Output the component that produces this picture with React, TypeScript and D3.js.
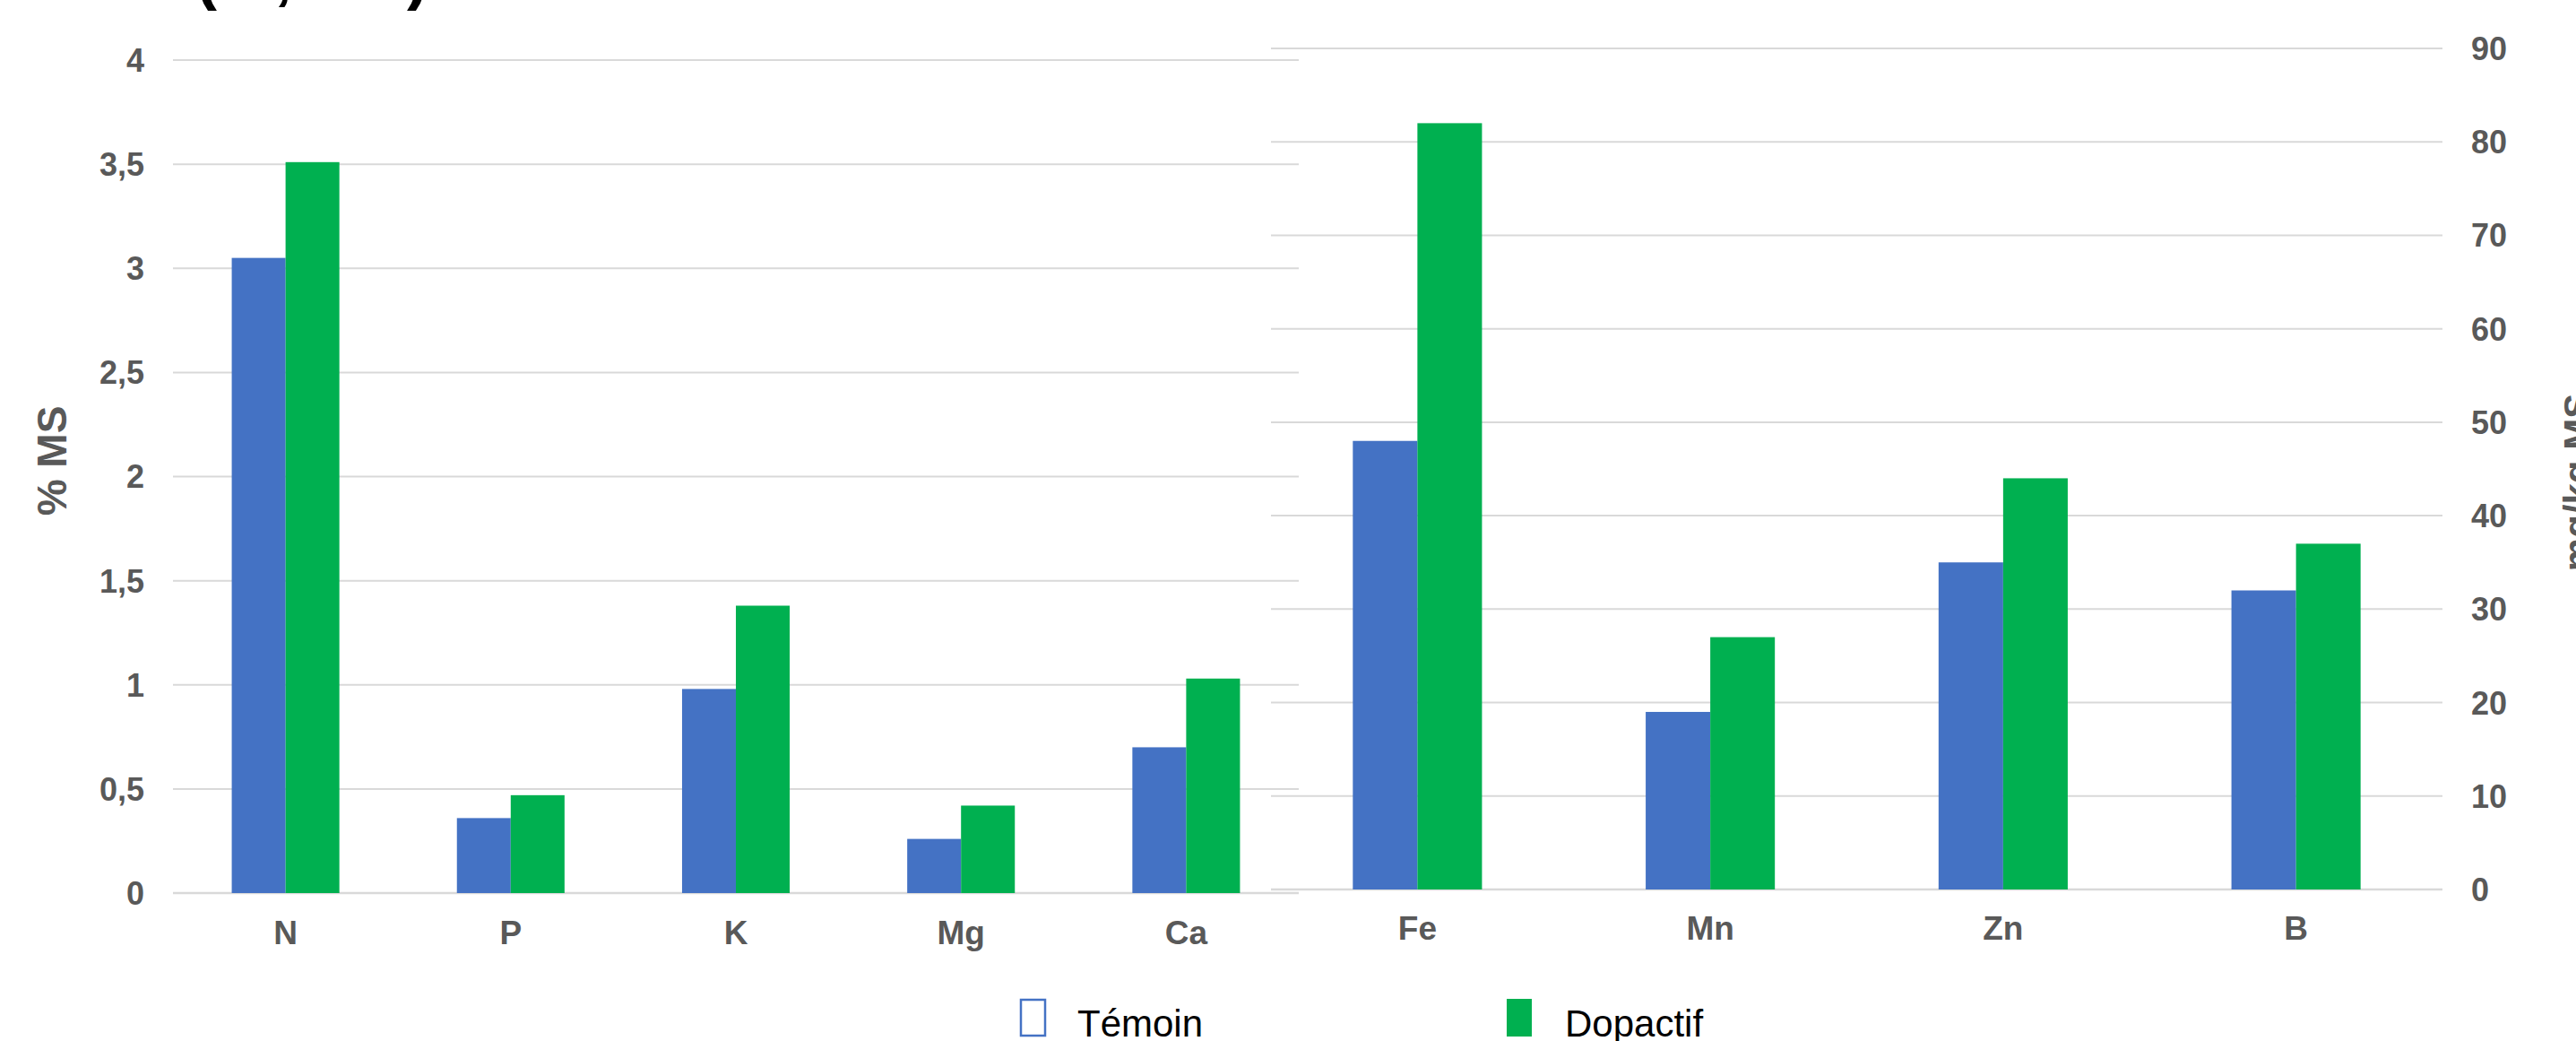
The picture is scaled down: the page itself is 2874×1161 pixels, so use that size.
import React from "react";
import * as d3 from "d3";

// Macro-elements (% of dry matter)
const macroCategories = ["N", "P", "K", "Mg", "Ca"];
const macroTemoin = [3.05, 0.36, 0.98, 0.26, 0.7];
const macroDopactif = [3.51, 0.47, 1.38, 0.42, 1.03];
const macroTicks = [0, 0.5, 1, 1.5, 2, 2.5, 3, 3.5, 4];

// Trace elements (mg/kg dry matter)
const microCategories = ["Fe", "Mn", "Zn", "B"];
const microTemoin = [48, 19, 35, 32];
const microDopactif = [82, 27, 44, 37];
const microTicks = [0, 10, 20, 30, 40, 50, 60, 70, 80, 90];

const seriesNames = ["Témoin", "Dopactif"];
const seriesColors = ["#4472C4", "#00B050"];

const W = 2874;
const H = 1161;
const FONT = "'Liberation Sans', Arial, Helvetica, sans-serif";
const GRAY = "#595959";
const GRID = "#d9d9d9";

const fmt = (v: number) => String(v).replace(".", ",");

type PanelProps = {
  categories: string[];
  a: number[];
  b: number[];
  ticks: number[];
  x0: number;
  x1: number;
  yZero: number;
  yTop: number;
  maxVal: number;
  padInner: number;
  labelBaseline: number;
};

function Panel(p: PanelProps) {
  const x = d3
    .scaleBand<string>()
    .domain(p.categories)
    .range([p.x0, p.x1])
    .paddingInner(p.padInner)
    .paddingOuter(p.padInner / 2);
  const sub = d3.scaleBand<string>().domain(seriesNames).range([0, x.bandwidth()]);
  const y = d3.scaleLinear().domain([0, p.maxVal]).range([p.yZero, p.yTop]);
  const rows = p.categories.map((c, i) => ({ c, vals: [p.a[i], p.b[i]] }));
  return (
    <g>
      {p.ticks.map((t) => (
        <line
          key={t}
          x1={p.x0}
          x2={p.x1}
          y1={y(t)}
          y2={y(t)}
          stroke={GRID}
          strokeWidth={t === 0 ? 2.5 : 2}
        />
      ))}
      {rows.map((r) =>
        r.vals.map((v, k) => (
          <rect
            key={r.c + k}
            x={(x(r.c) as number) + (sub(seriesNames[k]) as number)}
            y={y(v)}
            width={sub.bandwidth()}
            height={y(0) - y(v)}
            fill={seriesColors[k]}
          />
        ))
      )}
      {p.categories.map((c) => (
        <text
          key={c}
          x={(x(c) as number) + x.bandwidth() / 2}
          y={p.labelBaseline}
          textAnchor="middle"
          fontFamily={FONT}
          fontWeight="bold"
          fontSize={37}
          fill={GRAY}
        >
          {c}
        </text>
      ))}
    </g>
  );
}

export default function App() {
  const yLeft = d3.scaleLinear().domain([0, 4]).range([996, 67]);
  const yRight = d3.scaleLinear().domain([0, 90]).range([992, 54]);

  return (
    <div style={{ position: "fixed", left: 0, top: 0 }}>
      <svg width={W} height={H} style={{ display: "block", background: "#fff" }}>
        {/* heading, mostly above the top edge */}
        <text x={218} y={-3} fontFamily={FONT} fontWeight="bold" fontSize={72} fill="#000">
          (%, MS)
        </text>

        <Panel
          categories={macroCategories}
          a={macroTemoin}
          b={macroDopactif}
          ticks={macroTicks}
          x0={193}
          x1={1449}
          yZero={996}
          yTop={67}
          maxVal={4}
          padInner={0.522}
          labelBaseline={1053}
        />
        <Panel
          categories={microCategories}
          a={microTemoin}
          b={microDopactif}
          ticks={microTicks}
          x0={1418}
          x1={2725}
          yZero={992}
          yTop={54}
          maxVal={90}
          padInner={0.559}
          labelBaseline={1048}
        />

        {/* left axis */}
        {macroTicks.map((t) => (
          <text
            key={t}
            x={161}
            y={yLeft(t)}
            dy="0.36em"
            textAnchor="end"
            fontFamily={FONT}
            fontWeight="bold"
            fontSize={36}
            fill={GRAY}
          >
            {fmt(t)}
          </text>
        ))}
        <text
          transform="translate(74,514) rotate(-90)"
          textAnchor="middle"
          fontFamily={FONT}
          fontWeight="bold"
          fontSize={46}
          fill={GRAY}
        >
          % MS
        </text>

        {/* right axis */}
        {microTicks.map((t) => (
          <text
            key={t}
            x={2757}
            y={yRight(t)}
            dy="0.36em"
            textAnchor="start"
            fontFamily={FONT}
            fontWeight="bold"
            fontSize={36}
            fill={GRAY}
          >
            {t}
          </text>
        ))}
        <text
          transform="translate(2890,538) rotate(-90)"
          textAnchor="middle"
          fontFamily={FONT}
          fontWeight="bold"
          fontSize={42}
          fill={GRAY}
        >
          mg/kg MS
        </text>

        {/* legend */}
        <rect x={1139} y={1115} width={27} height={40} fill="#fff" stroke={seriesColors[0]} strokeWidth={2.5} />
        <text x={1202} y={1156} fontFamily={FONT} fontSize={42} fill="#000">
          {seriesNames[0]}
        </text>
        <rect x={1681} y={1114} width={28} height={42} fill={seriesColors[1]} />
        <text x={1746} y={1156} fontFamily={FONT} fontSize={42} fill="#000">
          {seriesNames[1]}
        </text>
      </svg>
    </div>
  );
}
